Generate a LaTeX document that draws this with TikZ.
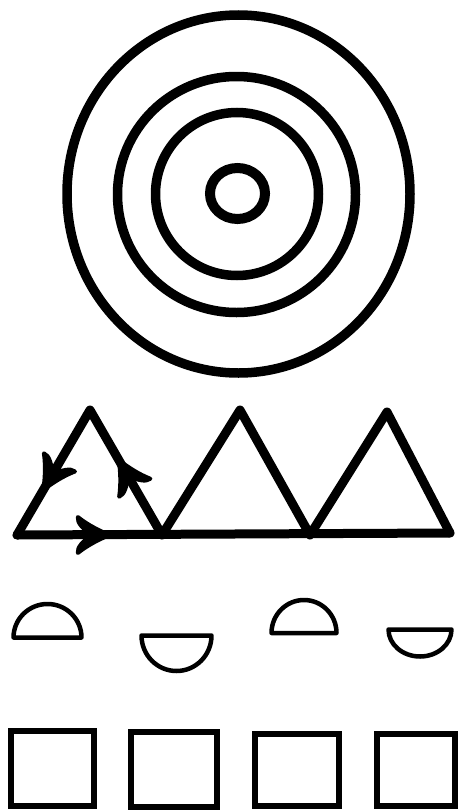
\documentclass[tikz,border=0pt]{standalone}
\usetikzlibrary{calc}
\tikzset{
  ring/.style={draw=black,line width=9.5pt},
  tri/.style={draw=black,line width=9pt,line join=round,line cap=round},
  half/.style={draw=black,line width=4.5pt,line join=round},
  sq/.style={draw=black,line width=6pt,line join=miter},
  barb/.pic={
    \filldraw[black,line width=4pt,line join=round]
      (0,0) .. controls (-10,-4) and (-22,-10) .. (-32,-18)
      .. controls (-33,-12) and (-26,-6) .. (-19,0)
      .. controls (-26,6) and (-33,12) .. (-32,18)
      .. controls (-22,10) and (-10,4) .. (0,0) -- cycle;
  }
}
\begin{document}
\begin{tikzpicture}[x=1pt,y=-1pt]
\useasboundingbox[fill=white] (0,0) rectangle (459,811);
% concentric rings
\coordinate (c0) at (238.5,194);
\draw[ring] (c0) ellipse[x radius=171.5, y radius=179];
\draw[ring] (236.5,194.5) ellipse[x radius=119, y radius=118];
\draw[ring] (237,194) ellipse[x radius=81.5, y radius=81.5];
\draw[ring,line width=10pt] (237.5,193.5) ellipse[x radius=27.5, y radius=25.5];
% triangles
\coordinate (L) at (17,535);
\coordinate (A1) at (90,410);
\coordinate (J1) at (162,535);
\coordinate (A2) at (240,410);
\coordinate (J2) at (310,535);
\coordinate (A3) at (387,412);
\coordinate (R) at (450,533);
\draw[tri] (L) -- (R);
\draw[tri] (L) -- (A1) -- (J1) -- (A2) -- (J2) -- (A3) -- (R);
% arrows on first triangle
\coordinate (t1) at ($(L)!0.64!(J1)$);
\coordinate (t2) at ($(J1)!0.60!(A1)$);
\coordinate (t3) at ($(A1)!0.64!(L)$);
\pic at (t1) {barb};
\pic[rotate=119.9] at (t2) {barb};
\pic[rotate=-120.3] at (t3) {barb};
% half discs
\draw[half] (13.5,637.5) arc[start angle=180, end angle=360, x radius=34, y radius=33.5] -- cycle;
\draw[half] (141.5,635.5) arc[start angle=180, end angle=0, x radius=35, y radius=35.5] -- cycle;
\draw[half] (271.5,633) arc[start angle=180, end angle=360, x radius=32.5, y radius=33] -- cycle;
\draw[half] (388.5,629.5) arc[start angle=180, end angle=0, x radius=31.5, y radius=27] -- cycle;
% squares
\draw[sq] (11,731) rectangle (94,806);
\draw[sq] (131,732) rectangle (217,807);
\draw[sq] (255,734) rectangle (339,806);
\draw[sq] (377,734) rectangle (455,806);
\end{tikzpicture}
\end{document}
